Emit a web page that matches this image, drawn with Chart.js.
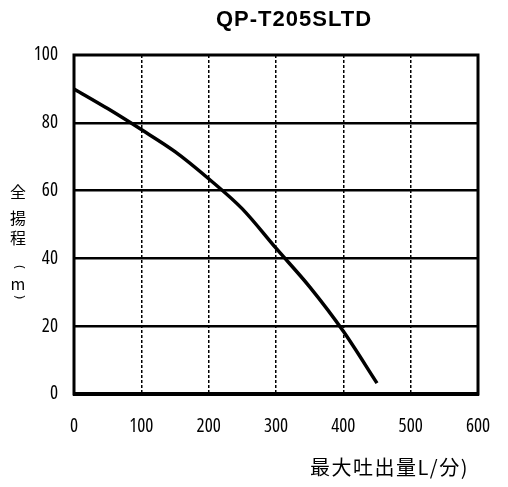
<!DOCTYPE html>
<html>
<head>
    <title>QP-T205SLTD</title>
    <script src="https://cdn.jsdelivr.net/npm/chart.js"></script>
    <style>
        body { margin: 0; background: #ffffff; }
        #wrap { width: 508px; height: 487px; }
    </style>
</head>
<body>
    <div id="wrap"><canvas id="pumpChart" width="508" height="487"></canvas></div>
    <script>
        // values
        const chartTitle = 'QP-T205SLTD';
        const flowValues = [0, 50, 100, 150, 200, 250, 300, 350, 400, 450];
        const headValues = [90, 84.2, 78, 71.5, 63.5, 54.6, 43, 31.6, 18.5, 3.2];
        const xTicks = [0, 100, 200, 300, 400, 500, 600];
        const yTicks = [0, 20, 40, 60, 80, 100];
        const yLabelChars = ['全', '揚', '程', '(', 'm', ')'];
        const xLabel = '最大吐出量L/分)';

        // narrow digits like the original
        const tickFont = { family: "'Open Sans'", weight: 'condensed', size: 19 };

        // title, axis captions and the outer frame
        const decor = {
            id: 'decor',
            afterDraw(chart) {
                const c = chart.ctx;
                const a = chart.chartArea;
                c.save();
                c.strokeStyle = '#000';
                c.lineWidth = 3;
                c.strokeRect(a.left, a.top, a.right - a.left, a.bottom - a.top);
                c.lineWidth = 4;
                c.beginPath();
                c.moveTo(a.left - 1, a.bottom);
                c.lineTo(a.right + 1, a.bottom);
                c.stroke();

                c.fillStyle = '#000';
                c.textAlign = 'center';
                c.textBaseline = 'middle';
                c.font = "bold 22px 'Liberation Sans', Arial";
                c.letterSpacing = '1px';
                c.fillText(chartTitle, 294, 20);
                c.letterSpacing = '0px';

                // vertical caption, brackets turned a quarter
                const ys = [192, 218, 238, 267, 284, 297];
                yLabelChars.forEach((ch, i) => {
                    if (ch === '(' || ch === ')') {
                        c.save();
                        c.font = "12px 'Noto Sans'";
                        c.translate(19, ys[i]);
                        c.rotate(Math.PI / 2);
                        c.fillText(ch, 0, 0);
                        c.restore();
                    } else {
                        c.font = "16px 'Noto Sans CJK JP'";
                        c.fillText(ch, 18, ys[i]);
                    }
                });

                c.textAlign = 'left';
                c.font = "20px 'Noto Sans CJK JP'";
                c.letterSpacing = '1.5px';
                c.fillText(xLabel, 310, 467);
                c.restore();
            }
        };

        new Chart(document.getElementById('pumpChart'), {
            type: 'line',
            data: {
                datasets: [{
                    data: flowValues.map((x, i) => ({ x: x, y: headValues[i] })),
                    borderColor: '#000',
                    borderWidth: 3.5,
                    pointRadius: 0,
                    cubicInterpolationMode: 'monotone',
                    fill: false
                }]
            },
            options: {
                responsive: false,
                animation: false,
                layout: { padding: { left: 0, right: 30, top: 55, bottom: 0 } },
                plugins: { legend: { display: false }, tooltip: { enabled: false } },
                scales: {
                    x: {
                        type: 'linear',
                        min: 0,
                        max: 600,
                        afterBuildTicks: (s) => { s.ticks = xTicks.map(v => ({ value: v })); },
                        afterFit: (s) => { s.height = 93; s.paddingLeft = 0; s.paddingRight = 0; },
                        ticks: { color: '#000', font: tickFont, padding: 21, maxRotation: 0 },
                        grid: {
                            drawTicks: false,
                            color: (ctx) => (ctx.tick && (ctx.tick.value === 0 || ctx.tick.value === 600)) ? 'rgba(0,0,0,0)' : '#000',
                            lineWidth: 1.5
                        },
                        border: { display: false, dash: [3, 2] }
                    },
                    y: {
                        min: 0,
                        max: 100,
                        afterBuildTicks: (s) => { s.ticks = yTicks.map(v => ({ value: v })); },
                        afterFit: (s) => { s.width = 74; s.paddingTop = 0; s.paddingBottom = 0; },
                        ticks: { color: '#000', font: tickFont, padding: 16 },
                        grid: {
                            drawTicks: false,
                            color: (ctx) => (ctx.tick && (ctx.tick.value === 0 || ctx.tick.value === 100)) ? 'rgba(0,0,0,0)' : '#000',
                            lineWidth: 2.5
                        },
                        border: { display: false }
                    }
                }
            },
            plugins: [decor]
        });
    </script>
</body>
</html>
